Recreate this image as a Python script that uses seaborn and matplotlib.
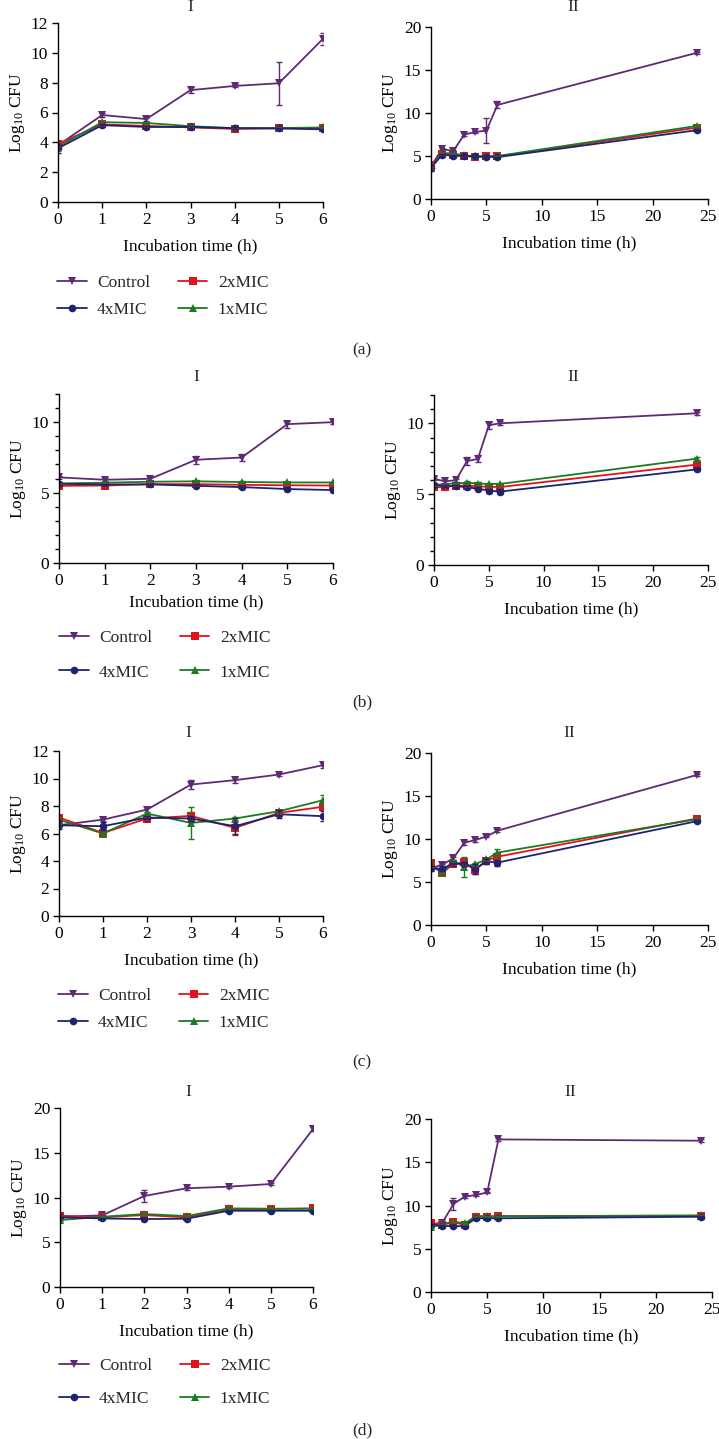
import numpy as np
import pandas as pd
import matplotlib
matplotlib.use("Agg")
import matplotlib.pyplot as plt
from matplotlib.ticker import MultipleLocator
import seaborn as sns

sns.set_theme(style="ticks")
plt.rcParams['font.family'] = ['Liberation Serif', 'DejaVu Serif']
plt.rcParams['mathtext.fontset'] = 'custom'
plt.rcParams['mathtext.rm'] = 'Liberation Serif'
plt.rcParams['mathtext.it'] = 'Liberation Serif:italic'

# ---------------- data ----------------
groups = ["Control", "2xMIC", "1xMIC", "4xMIC"]
legend_order = ["Control", "4xMIC", "2xMIC", "1xMIC"]
times_short = [0, 1, 2, 3, 4, 5, 6]
times_long = [0, 1, 2, 3, 4, 5, 6, 24]

# panel (a)
a_control = [3.8, 5.83, 5.56, 7.5, 7.78, 7.96, 10.94, 17.0]
a_2x = [3.9, 5.2, 5.1, 5.0, 4.9, 4.95, 4.95, 8.3]
a_1x = [3.7, 5.35, 5.3, 5.08, 4.95, 4.95, 5.0, 8.5]
a_4x = [3.6, 5.15, 5.03, 5.03, 4.95, 4.93, 4.87, 8.0]
a_control_err = [0.3, 0.15, 0.1, 0.2, 0.1, 1.45, 0.4, 0.1]
a_2x_err = [0.2, 0.1, 0.05, 0.05, 0.05, 0.05, 0.05, 0.1]
a_1x_err = [0.2, 0.1, 0.05, 0.05, 0.05, 0.05, 0.05, 0.1]
a_4x_err = [0.3, 0.1, 0.05, 0.05, 0.05, 0.05, 0.05, 0.1]

# panel (b)
b_control = [6.08, 5.91, 5.98, 7.33, 7.49, 9.86, 10.0, 10.71]
b_2x = [5.48, 5.5, 5.6, 5.6, 5.55, 5.52, 5.5, 7.09]
b_1x = [5.65, 5.7, 5.77, 5.8, 5.75, 5.72, 5.72, 7.51]
b_4x = [5.62, 5.58, 5.58, 5.48, 5.39, 5.25, 5.18, 6.75]
b_control_err = [0.1, 0.1, 0.1, 0.3, 0.25, 0.25, 0.15, 0.1]
b_2x_err = [0.1, 0.1, 0.05, 0.1, 0.05, 0.05, 0.05, 0.1]
b_1x_err = [0.05, 0.05, 0.05, 0.1, 0.1, 0.05, 0.05, 0.1]
b_4x_err = [0.1, 0.05, 0.05, 0.1, 0.1, 0.15, 0.15, 0.1]

# panel (c)
c_control = [6.6, 7.01, 7.74, 9.56, 9.88, 10.29, 10.97, 17.45]
c_2x = [7.16, 6.04, 7.09, 7.28, 6.41, 7.5, 7.94, 12.38]
c_1x = [7.0, 6.0, 7.45, 6.77, 7.09, 7.62, 8.42, 12.3]
c_4x = [6.6, 6.53, 7.16, 7.09, 6.53, 7.4, 7.26, 12.07]
c_control_err = [0.15, 0.1, 0.2, 0.3, 0.2, 0.1, 0.2, 0.1]
c_2x_err = [0.2, 0.1, 0.1, 0.3, 0.5, 0.1, 0.15, 0.15]
c_1x_err = [0.3, 0.1, 0.1, 1.15, 0.1, 0.1, 0.4, 0.1]
c_4x_err = [0.3, 0.3, 0.1, 0.2, 0.6, 0.3, 0.35, 0.1]

# panel (d)
d_control = [7.85, 8.0, 10.17, 11.03, 11.21, 11.51, 17.64, 17.49]
d_2x = [7.96, 7.78, 8.04, 7.78, 8.71, 8.71, 8.78, 8.82]
d_1x = [7.48, 7.85, 8.15, 7.93, 8.78, 8.75, 8.75, 8.85]
d_4x = [7.78, 7.66, 7.59, 7.63, 8.52, 8.52, 8.52, 8.7]
d_control_err = [0.1, 0.1, 0.7, 0.15, 0.1, 0.1, 0.2, 0.15]
d_2x_err = [0.1, 0.05, 0.1, 0.05, 0.05, 0.05, 0.05, 0.05]
d_1x_err = [0.1, 0.05, 0.1, 0.05, 0.05, 0.05, 0.05, 0.05]
d_4x_err = [0.05, 0.05, 0.05, 0.05, 0.05, 0.05, 0.05, 0.05]

panel_letters = ["(a)", "(b)", "(c)", "(d)"]
panel_titles = ["I", "II"]
x_label = "Incubation time (h)"
y_label = r"Log$_{10}$ CFU"

# ---------------- style ----------------
palette = {"Control": "#5e2a73", "2xMIC": "#e3121a", "1xMIC": "#1b7a22", "4xMIC": "#1b2470"}
markers = {"Control": "v", "2xMIC": "s", "1xMIC": "^", "4xMIC": "o"}
FS = 12.5

W, H = 719, 1439
fig = plt.figure(figsize=(W / 100, H / 100), dpi=100)


def add_ax(l, r, t, b):
    return fig.add_axes([l / W, 1 - b / H, (r - l) / W, (b - t) / H])


def make_df(vals, times):
    rows = []
    for g, v in vals.items():
        for t, y in zip(times, v):
            rows.append((t, y, g))
    return pd.DataFrame(rows, columns=["time", "value", "group"])


def draw(ax, vals, errs, times, xlim, xmajor, ylim, ymajor, yminor=None, xlpad=9):
    df = make_df(vals, times)
    sns.lineplot(data=df, x="time", y="value", hue="group", style="group",
                 hue_order=groups, style_order=groups, palette=palette,
                 markers=markers, dashes=False, markersize=5.5,
                 markeredgewidth=0, linewidth=1.3, ax=ax, legend=True,
                 errorbar=None)
    for g in groups:
        ax.errorbar(times, vals[g], yerr=errs[g], fmt="none", ecolor=palette[g],
                    elinewidth=1.0, capsize=2.5, capthick=1.0)
    ax.set_xlim(*xlim)
    ax.set_ylim(*ylim)
    ax.xaxis.set_major_locator(MultipleLocator(xmajor))
    ax.yaxis.set_major_locator(MultipleLocator(ymajor))
    if yminor:
        ax.yaxis.set_minor_locator(MultipleLocator(yminor))
        ax.tick_params(axis="y", which="minor", length=3, width=1, color="black")
    sns.despine(ax=ax)
    for s in ["left", "bottom"]:
        ax.spines[s].set_color("black")
        ax.spines[s].set_linewidth(1.0)
    ax.tick_params(axis="both", which="major", labelsize=FS, length=4, width=1,
                   color="black", labelcolor="black", pad=3)
    ax.set_xlabel(x_label, fontsize=FS, color="black", labelpad=xlpad)
    ax.set_ylabel(y_label, fontsize=FS, color="black", labelpad=3)
    handles, labels = ax.get_legend_handles_labels()
    ax.get_legend().remove()
    return dict(zip(labels, handles))


panels = [
    dict(vals={"Control": a_control, "2xMIC": a_2x, "1xMIC": a_1x, "4xMIC": a_4x},
         errs={"Control": a_control_err, "2xMIC": a_2x_err, "1xMIC": a_1x_err, "4xMIC": a_4x_err},
         axI=(58, 323, 23, 202), axII=(431, 708, 27, 199),
         yI=(0, 12), yImaj=2, yImin=None, yII=(0, 20), yIImaj=5, yIImin=None,
         titleI=(190, 7), titleII=(573, 7), leg=(57, 275, 0.6), letter=(362, 350), xlpadI=8),
    dict(vals={"Control": b_control, "2xMIC": b_2x, "1xMIC": b_1x, "4xMIC": b_4x},
         errs={"Control": b_control_err, "2xMIC": b_2x_err, "1xMIC": b_1x_err, "4xMIC": b_4x_err},
         axI=(59, 333, 394, 563), axII=(434, 708, 395, 565),
         yI=(0, 12), yImaj=5, yImin=1, yII=(0, 12), yIImaj=5, yIImin=1,
         titleI=(196, 377), titleII=(573, 377), leg=(59, 630, 1.05), letter=(362, 702), xlpadI=4),
    dict(vals={"Control": c_control, "2xMIC": c_2x, "1xMIC": c_1x, "4xMIC": c_4x},
         errs={"Control": c_control_err, "2xMIC": c_2x_err, "1xMIC": c_1x_err, "4xMIC": c_4x_err},
         axI=(59, 323, 751, 916), axII=(431, 708, 753, 925),
         yI=(0, 12), yImaj=2, yImin=None, yII=(0, 20), yIImaj=5, yIImin=None,
         titleI=(188, 733), titleII=(569, 733), leg=(58, 988, 0.6), letter=(362, 1062), xlpadI=8),
    dict(vals={"Control": d_control, "2xMIC": d_2x, "1xMIC": d_1x, "4xMIC": d_4x},
         errs={"Control": d_control_err, "2xMIC": d_2x_err, "1xMIC": d_1x_err, "4xMIC": d_4x_err},
         axI=(60, 313, 1108, 1287), axII=(431, 712, 1119, 1292),
         yI=(0, 20), yImaj=5, yImin=None, yII=(0, 20), yIImaj=5, yIImin=None,
         titleI=(188, 1092), titleII=(570, 1092), leg=(59, 1358, 0.95), letter=(362, 1430), xlpadI=8),
]

for i, p in enumerate(panels):
    short_vals = {g: v[:7] for g, v in p["vals"].items()}
    short_errs = {g: v[:7] for g, v in p["errs"].items()}
    axI = add_ax(*p["axI"])
    hd = draw(axI, short_vals, short_errs, times_short, (0, 6), 1,
              p["yI"], p["yImaj"], p["yImin"], xlpad=p["xlpadI"])
    axII = add_ax(*p["axII"])
    draw(axII, p["vals"], p["errs"], times_long, (0, 25), 5,
         p["yII"], p["yIImaj"], p["yIImin"], xlpad=8)
    fig.text(p["titleI"][0] / W, 1 - p["titleI"][1] / H, panel_titles[0],
             ha="center", va="center", fontsize=FS)
    fig.text(p["titleII"][0] / W, 1 - p["titleII"][1] / H, panel_titles[1],
             ha="center", va="center", fontsize=FS)
    lx, ly, ls = p["leg"]
    fig.legend([hd[g] for g in legend_order], legend_order, loc="upper left",
               bbox_to_anchor=(lx / W, 1 - ly / H), ncol=2, frameon=False,
               fontsize=FS, handlelength=1.7, handletextpad=0.6,
               columnspacing=1.6, labelspacing=ls, borderpad=0, borderaxespad=0)
    fig.text(p["letter"][0] / W, 1 - p["letter"][1] / H, panel_letters[i],
             ha="center", va="center", fontsize=FS)

fig.savefig("out.png", dpi=100, facecolor="white")
